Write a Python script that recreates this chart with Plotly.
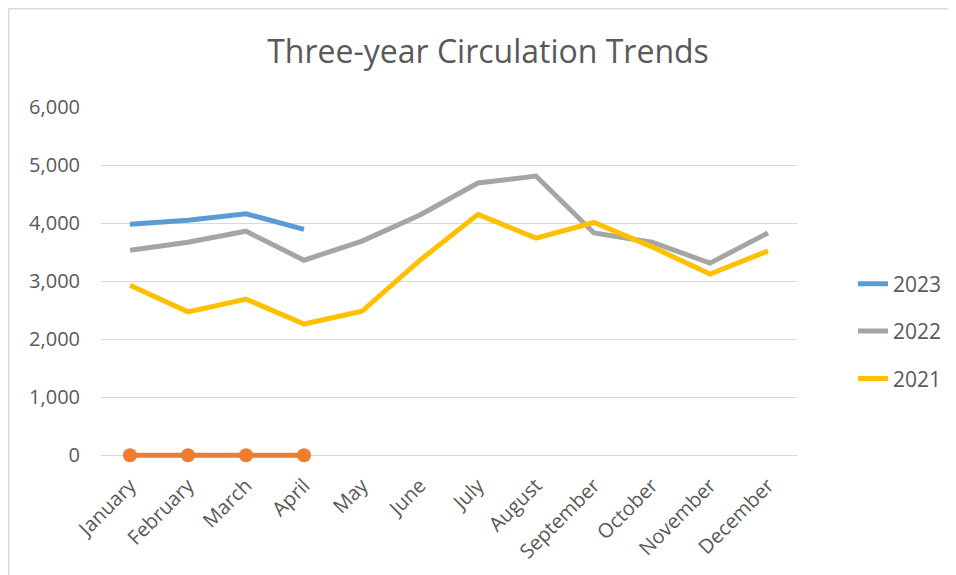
import plotly.graph_objects as go

months = ["January", "February", "March", "April", "May", "June", "July",
          "August", "September", "October", "November", "December"]
y2023 = [3980, 4050, 4160, 3890]
y2022 = [3530, 3670, 3860, 3360, 3690, 4140, 4690, 4810, 3830, 3670, 3310, 3830]
y2021 = [2930, 2470, 2690, 2260, 2480, 3360, 4150, 3740, 4010, 3590, 3120, 3520]
yzero = [0, 0, 0, 0]

fig = go.Figure()
fig.add_trace(go.Scatter(x=months[:4], y=yzero, mode="lines+markers", showlegend=False,
                         cliponaxis=False,
                         line=dict(color="#ED7D31", width=5), marker=dict(size=14, color="#ED7D31")))
fig.add_trace(go.Scatter(x=months, y=y2022, mode="lines", name="2022", legendgroup="g2022",
                         legendrank=2, line=dict(color="#A5A5A5", width=5)))
fig.add_trace(go.Scatter(x=months, y=y2021, mode="lines", name="2021", legendgroup="g2021",
                         legendrank=3, line=dict(color="#FFC000", width=5)))
fig.add_trace(go.Scatter(x=months[:4], y=y2023, mode="lines", name="2023", legendgroup="g2023",
                         legendrank=1, line=dict(color="#5B9BD5", width=5)))

# page body adds an 8px offset; coordinates below are in figure pixels
W, H = 956, 575
L, R, T = 93, 167, 99
ymin = -100
B = 575 - (447 + 58 * (-ymin) / 1000)
pw, ph = W - L - R, H - T - B
def px(x): return (x - L) / pw
def py(y): return (H - B - y) / ph

fig.add_shape(type="rect", xref="paper", yref="paper",
              x0=px(0.75), x1=px(1000), y0=py(620), y1=py(0.75),
              line=dict(color="#D9D9D9", width=1.5), fillcolor="rgba(0,0,0,0)", layer="below")

fig.update_layout(
    width=W, height=H,
    margin=dict(l=L, r=R, t=T, b=B),
    paper_bgcolor="white", plot_bgcolor="white",
    font=dict(family="Open Sans", color="#595959"),
    title=dict(text="Three-year Circulation Trends", x=480 / W, xanchor="center",
               y=1 - 44 / H, yanchor="middle", font=dict(size=32, color="#595959")),
    xaxis=dict(type="category", range=[-0.5, 11.5], tickangle=-45, showgrid=False,
               showline=False, ticks="", ticklabelstandoff=8,
               tickfont=dict(size=20, color="#595959")),
    yaxis=dict(range=[ymin, 6000], tickvals=[0, 1000, 2000, 3000, 4000, 5000, 6000],
               tickformat=",", showgrid=True,
               gridcolor="#D9D9D9", gridwidth=1, zeroline=False,
               showline=False, ticks="", ticklabelstandoff=20,
               tickfont=dict(size=20, color="#595959")),
    legend=dict(x=px(845), y=py(323), xanchor="left", yanchor="middle",
                traceorder="grouped", font=dict(size=21, color="#595959"),
                tracegroupgap=17, bgcolor="rgba(0,0,0,0)"),
    showlegend=True,
)

fig.write_html("out.html")
